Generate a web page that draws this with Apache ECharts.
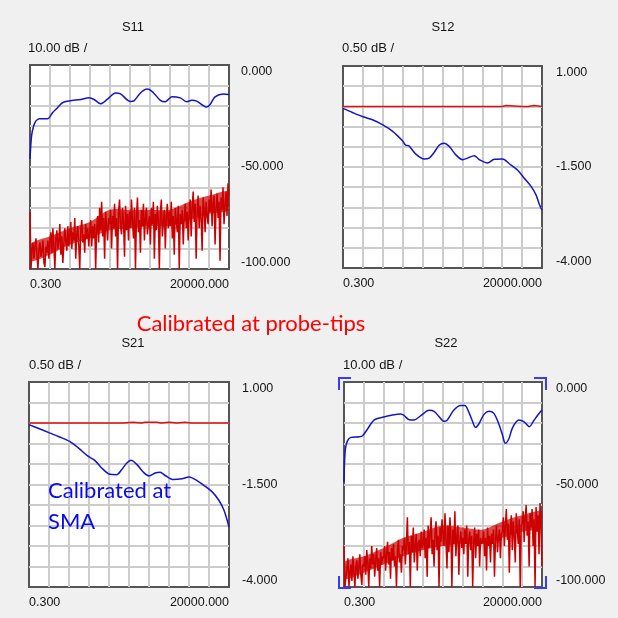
<!DOCTYPE html>
<html>
<head>
<meta charset="utf-8">
<script src="https://cdn.jsdelivr.net/npm/echarts@6/dist/echarts.min.js"></script>
<style>
html,body{margin:0;padding:0;background:#f0f0f0;}
#c{width:618px;height:618px;}
</style>
</head>
<body>
<div id="c"></div>
<script>
// ---------- data ----------
const xTickLabels = ['0.300', '20000.000'];
const panelTitles = ['S11', 'S12', 'S21', 'S22'];
const scaleLabels = ['10.00 dB /', '0.50 dB /', '0.50 dB /', '10.00 dB /'];
const s11YLabels = [0, -50, -100];
const s12YLabels = [1, -1.5, -4];

// x in divisions (0..10), y in dB
const s11Blue = [[0,-46],[0.08,-34.7],[0.18,-30],[0.3,-27.4],[0.47,-26.3],[0.88,-26.3],[0.97,-25.8],[1.13,-23.4],[1.38,-21],[1.63,-18.5],[1.97,-17.6],[2.55,-16.9],[2.97,-16.1],[3.22,-16.9],[3.55,-19],[3.88,-16.9],[4.3,-13.7],[4.55,-14.2],[5.05,-17.9],[5.22,-17.6],[5.55,-13.7],[5.88,-11.8],[6.13,-12.9],[6.55,-17.3],[6.8,-18],[7.13,-15.6],[7.55,-16.1],[7.88,-18],[8.13,-17.3],[8.38,-17.7],[8.88,-20.6],[9.05,-19.4],[9.3,-15.6],[9.72,-14.2],[10,-14.5]];

const s11Red = [
-72,-100,-91,-87,-95,-89,-85,-93,-100,-90,-87,-94,-91,-86,-97,-99,-89,-92,-86,-95,
-86,-82,-92,-80,-89,-100,-85,-81,-90,-86,-78,-93,-84,-97,-88,-80,-86,-91,-79,-89,
-83,-77,-90,-82,-86,-75,-95,-83,-79,-88,-100,-81,-76,-87,-83,-92,-78,-85,-80,-89,
-82,-76,-89,-79,-85,-78,-100,-80,-74,-87,-70,-81,-67,-84,-75,-95,-72,-79,-86,-75,
-78,-71,-90,-74,-80,-68,-84,-75,-100,-72,-66,-79,-83,-70,-77,-94,-69,-81,-73,-86,
-72,-80,-66,-77,-85,-70,-100,-74,-65,-82,-76,-92,-71,-79,-68,-86,-75,-70,-83,-78,
-74,-88,-70,-78,-67,-95,-73,-81,-69,-76,-100,-72,-66,-84,-77,-71,-90,-74,-68,-80,
-72,-79,-67,-85,-74,-93,-70,-76,-82,-69,-100,-73,-78,-71,-88,-75,-68,-80,-72,-86,
-73,-66,-84,-70,-62,-77,-68,-95,-72,-64,-80,-69,-75,-91,-65,-71,-82,-67,-74,-78,
-66,-72,-61,-79,-68,-64,-88,-70,-63,-75,-67,-96,-65,-71,-60,-78,-69,-62,-74,-58,
-64];
// dense core of the noise (at x = 0,1,...,10)
const s11CoreLow  = [-96,-93,-88,-85,-81,-80,-79,-79,-76,-73,-71];
const s11CoreHigh = [-88,-84,-80,-77,-71,-71,-71,-71,-67,-64,-62];

const s12Blue = [[0,-0.05],[0.47,-0.15],[0.97,-0.25],[1.48,-0.33],[1.98,-0.45],[2.48,-0.61],[2.99,-0.85],[3.15,-0.96],[3.32,-0.98],[3.66,-1.18],[4.08,-1.3],[4.33,-1.28],[4.58,-1.14],[4.83,-0.96],[5.08,-0.91],[5.34,-0.99],[5.67,-1.2],[6.01,-1.32],[6.26,-1.28],[6.59,-1.22],[6.85,-1.32],[7.26,-1.4],[7.6,-1.31],[8.02,-1.3],[8.36,-1.42],[8.78,-1.58],[9.11,-1.78],[9.45,-1.98],[9.7,-2.19],[9.87,-2.43],[10,-2.57]];
const s12Red = [[0,0],[3.35,0],[3.37,0.02],[3.4,0],[5,0],[5.05,0.02],[5.1,0],[6.6,0],[6.65,0.02],[6.7,0],[7.4,0],[7.45,0.02],[7.5,0],[8.0,0],[8.05,0.02],[8.2,0.02],[8.3,0],[9.0,0],[9.1,0.02],[9.3,0],[9.6,0.02],[10,0]];

const s21Blue = [[0,-0.04],[0.52,-0.14],[1.02,-0.24],[1.53,-0.34],[2.03,-0.45],[2.45,-0.6],[2.95,-0.81],[3.29,-0.91],[3.62,-1.09],[4.04,-1.25],[4.38,-1.26],[4.63,-1.14],[4.88,-0.98],[5.1,-0.91],[5.39,-1.01],[5.72,-1.2],[6.0,-1.29],[6.31,-1.22],[6.56,-1.2],[6.81,-1.28],[7.23,-1.38],[7.65,-1.36],[7.99,-1.32],[8.32,-1.38],[8.74,-1.52],[9.16,-1.68],[9.5,-1.89],[9.75,-2.13],[10,-2.54]];
const s21Red = [[0,0],[3.5,0],[3.52,0.02],[3.55,0],[4.7,0],[4.75,0.02],[4.8,0],[5.2,0.02],[5.6,0],[5.8,0.02],[6.4,0.02],[6.6,0],[7.0,0.02],[7.4,0],[7.8,0.02],[8.1,0],[9.6,0],[9.65,0.02],[9.7,0],[10,0]];

const s22Blue = [[0,-49],[0.02,-41],[0.07,-32.7],[0.18,-28.6],[0.35,-27],[0.77,-26.7],[0.94,-26.2],[1.19,-22.9],[1.53,-18.5],[1.95,-17.2],[2.45,-16.1],[2.87,-15.6],[3.04,-16.4],[3.29,-18.4],[3.54,-18.5],[3.88,-16.4],[4.3,-13.8],[4.55,-14.3],[4.8,-16.9],[5.05,-19.2],[5.22,-18.5],[5.55,-13.7],[5.89,-11.5],[6.1,-11.5],[6.31,-14.8],[6.48,-18.9],[6.64,-22.1],[6.81,-20.5],[7.06,-15.9],[7.32,-14.3],[7.57,-15.3],[7.82,-20.5],[7.99,-25.4],[8.15,-29.9],[8.32,-27.8],[8.52,-22.1],[8.83,-18.5],[9.08,-19.3],[9.36,-21.8],[9.58,-18.9],[9.83,-15.6],[10,-13.7]];

const s22Red = [
-80,-100,-95,-91,-86,-100,-93,-89,-97,-85,-92,-100,-90,-87,-96,-91,-84,-94,-99,-89,
-90,-85,-94,-82,-88,-100,-86,-91,-80,-89,-84,-95,-87,-81,-92,-86,-100,-83,-89,-85,
-86,-80,-92,-84,-78,-89,-83,-96,-81,-87,-79,-90,-85,-100,-82,-77,-88,-84,-93,-80,
-82,-76,-89,-79,-66,-84,-78,-100,-75,-83,-71,-88,-80,-74,-92,-79,-77,-85,-73,-81,
-79,-72,-86,-76,-95,-70,-81,-74,-66,-84,-77,-90,-73,-68,-82,-75,-100,-71,-78,-67,
-74,-80,-64,-77,-91,-70,-83,-66,-75,-100,-72,-79,-63,-85,-76,-70,-94,-78,-73,-81,
-76,-84,-72,-79,-70,-95,-77,-73,-82,-75,-100,-78,-71,-86,-74,-80,-72,-90,-76,-79,
-78,-73,-85,-76,-92,-71,-80,-75,-88,-74,-79,-72,-95,-77,-70,-83,-76,-72,-86,-74,
-73,-66,-80,-70,-62,-77,-69,-93,-71,-65,-82,-68,-75,-88,-64,-72,-79,-67,-100,-70,
-69,-63,-78,-66,-60,-75,-68,-90,-64,-71,-62,-80,-67,-100,-61,-73,-65,-84,-59,-70,
-90];
const s22CoreLow  = [-96,-93,-89,-85,-82,-80,-79,-79,-76,-73,-71];
const s22CoreHigh = [-88,-85,-81,-76,-73,-70,-71,-72,-68,-65,-63];

// ---------- chart ----------
const FONT = '"Liberation Sans", Arial, sans-serif';
const TXT = '#141414';
function toPairs(arr){ return arr.map((v,i)=>[i*10/(arr.length-1), v]); }

const grids = [
  {left:30, top:65, width:199, height:204},
  {left:343, top:66, width:199, height:202},
  {left:29, top:382, width:200, height:205},
  {left:344, top:382, width:198, height:205}
];
const yConf = [
  {min:-100,max:0,interval:10,labels:s11YLabels,margin:12},
  {min:-4,max:1,interval:0.5,labels:s12YLabels,margin:14},
  {min:-4,max:1,interval:0.5,labels:s12YLabels,margin:13},
  {min:-100,max:0,interval:10,labels:s11YLabels,margin:14}
];

function coreSeries(idx, low, high){
  const n = low.length;
  return {
    type:'custom', xAxisIndex:idx, yAxisIndex:idx, silent:true, clip:true,
    data:[[5, low[5]]],
    renderItem:(params, api)=>{
      const pts = [];
      for (let i=0;i<n;i++) pts.push(api.coord([i*10/(n-1), low[i]]));
      for (let i=n-1;i>=0;i--) pts.push(api.coord([i*10/(n-1), high[i]]));
      return {type:'polygon', shape:{points:pts, smooth:0.3}, style:{fill:'#cc0000', opacity:0.7}};
    }
  };
}

const option = {
  backgroundColor:'#f0f0f0',
  animation:false,
  grid: grids.map(g=>Object.assign({show:true, backgroundColor:'#ffffff', borderColor:'#555555', borderWidth:2}, g)),
  xAxis: grids.map((g,i)=>({
    type:'value', gridIndex:i, min:0, max:10, interval:1,
    axisLine:{show:false}, axisTick:{show:false},
    splitLine:{show:true, showMinLine:false, showMaxLine:false, lineStyle:{color:'#cccccc', width:2}},
    axisLabel:{
      margin:9, color:TXT, fontFamily:FONT, fontSize:12.5,
      alignMinLabel:'left', alignMaxLabel:'right',
      formatter:(v)=> v===0 ? xTickLabels[0] : (v===10 ? xTickLabels[1] : '')
    }
  })),
  yAxis: yConf.map((c,i)=>({
    type:'value', gridIndex:i, position:'right', min:c.min, max:c.max, interval:c.interval,
    axisLine:{show:false}, axisTick:{show:false},
    splitLine:{show:true, showMinLine:false, showMaxLine:false, lineStyle:{color:'#cccccc', width:2}},
    axisLabel:{
      margin:c.margin, color:TXT, fontFamily:FONT, fontSize:12.5,
      verticalAlignMaxLabel:'top', verticalAlignMinLabel:'bottom',
      formatter:(v)=> c.labels.some(l=>Math.abs(l-v)<1e-6) ? v.toFixed(3) : ''
    }
  })),
  series: [
    coreSeries(0, s11CoreLow, s11CoreHigh),
    {type:'line', xAxisIndex:0, yAxisIndex:0, data:toPairs(s11Red), showSymbol:false, lineStyle:{color:'#cc0000', width:1.5}},
    {type:'line', xAxisIndex:0, yAxisIndex:0, data:s11Blue, showSymbol:false, smooth:0.3, lineStyle:{color:'#1414c8', width:1.5}},
    {type:'line', xAxisIndex:1, yAxisIndex:1, data:s12Red, showSymbol:false, lineStyle:{color:'#dd1010', width:1.5}},
    {type:'line', xAxisIndex:1, yAxisIndex:1, data:s12Blue, showSymbol:false, smooth:0.3, lineStyle:{color:'#1414c8', width:1.5}},
    {type:'line', xAxisIndex:2, yAxisIndex:2, data:s21Red, showSymbol:false, lineStyle:{color:'#dd1010', width:1.5}},
    {type:'line', xAxisIndex:2, yAxisIndex:2, data:s21Blue, showSymbol:false, smooth:0.3, lineStyle:{color:'#1414c8', width:1.5}},
    coreSeries(3, s22CoreLow, s22CoreHigh),
    {type:'line', xAxisIndex:3, yAxisIndex:3, data:toPairs(s22Red), showSymbol:false, lineStyle:{color:'#cc0000', width:1.5}},
    {type:'line', xAxisIndex:3, yAxisIndex:3, data:s22Blue, showSymbol:false, smooth:0.3, lineStyle:{color:'#1414c8', width:1.5}}
  ],
  graphic: []
};

const titlePos = [[133,27],[443,27],[133,343],[446,343]];
const scalePos = [[28,48],[342,48],[29,365],[343,365]];
titlePos.forEach((p,i)=>{
  option.graphic.push({type:'text', x:p[0], y:p[1], style:{text:panelTitles[i], fill:TXT, font:'13px '+FONT, textAlign:'center', textVerticalAlign:'middle'}});
  option.graphic.push({type:'text', x:scalePos[i][0], y:scalePos[i][1], style:{text:scaleLabels[i], fill:TXT, font:'13px '+FONT, textAlign:'left', textVerticalAlign:'middle'}});
});
option.graphic.push({type:'text', x:251, y:324, z:100, style:{text:'Calibrated at probe-tips', fill:'#ff0000', font:'22px Lato, sans-serif', textAlign:'center', textVerticalAlign:'middle'}});
option.graphic.push({type:'text', x:48, y:491, z:100, style:{text:'Calibrated at', fill:'#0a0aee', font:'22px Lato, sans-serif', textAlign:'left', textVerticalAlign:'middle'}});
option.graphic.push({type:'text', x:48, y:522, z:100, style:{text:'SMA', fill:'#0a0aee', font:'22px Lato, sans-serif', textAlign:'left', textVerticalAlign:'middle'}});

// selection brackets around S22
const bx0 = 339, bx1 = 546, by0 = 378, by1 = 588, arm = 12;
const bStyle = {stroke:'#3a3aff', lineWidth:2, fill:null};
[
  [[bx0,by0+arm],[bx0,by0],[bx0+arm,by0]],
  [[bx1-arm,by0],[bx1,by0],[bx1,by0+arm]],
  [[bx0,by1-arm],[bx0,by1],[bx0+arm,by1]],
  [[bx1-arm,by1],[bx1,by1],[bx1,by1-arm]]
].forEach(pts=>option.graphic.push({type:'polyline', z:100, shape:{points:pts}, style:bStyle}));

const chart = echarts.init(document.getElementById('c'), null, {renderer:'canvas'});
chart.setOption(option);
</script>
</body>
</html>
